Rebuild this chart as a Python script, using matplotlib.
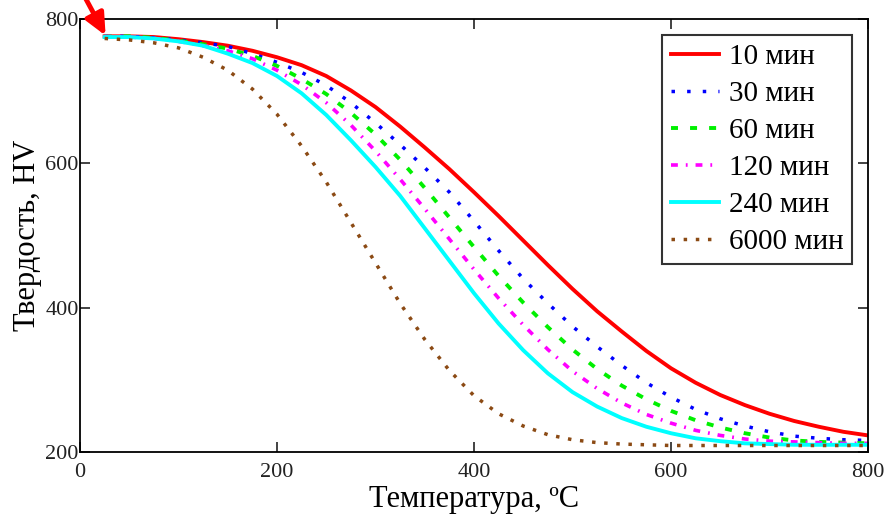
import matplotlib
matplotlib.use("Agg")
import matplotlib.pyplot as plt

plt.rcParams['font.family'] = ['Liberation Serif', 'DejaVu Serif']

# temperature grid, deg C
temp = [25, 50, 75, 100, 125, 150, 175, 200, 225, 250, 275, 300, 325, 350, 375, 400,
        425, 450, 475, 500, 525, 550, 575, 600, 625, 650, 675, 700, 725, 750, 775, 800]

# hardness HV
hv_10 = [776, 776, 775, 772, 768, 763, 756, 747, 736, 721, 701, 678, 651, 622, 592, 560,
         527, 493, 459, 426, 395, 367, 340, 316, 296, 279, 265, 253, 243, 235, 228, 223]
hv_30 = [776, 776, 774, 771, 767, 762, 752, 740, 726, 708, 684, 656, 626, 594, 560, 520,
         479, 440, 406, 374, 346, 320, 296, 276, 259, 246, 236, 228, 222, 219, 217, 216]
hv_60 = [776, 776, 774, 770, 765, 759, 749, 735, 717, 696, 670, 640, 605, 566, 525, 484,
         444, 407, 373, 342, 315, 292, 273, 257, 244, 234, 226, 220, 216, 214, 213, 212]
hv_120 = [776, 775, 773, 769, 763, 756, 745, 729, 709, 684, 653, 617, 578, 537, 495, 453,
          413, 376, 342, 312, 288, 268, 252, 240, 230, 223, 218, 215, 214, 213, 212, 212]
hv_240 = [775, 775, 773, 769, 763, 752, 739, 721, 697, 667, 632, 595, 555, 510, 465, 420,
          378, 341, 309, 283, 263, 247, 235, 226, 219, 215, 212, 211, 210, 210, 210, 210]
hv_6000 = [773, 771, 767, 760, 747, 729, 703, 668, 624, 574, 518, 462, 406, 356, 313, 278,
           253, 236, 224, 217, 213, 211, 210, 209, 209, 209, 209, 209, 209, 209, 209, 209]

labels = ['10 мин', '30 мин', '60 мин', '120 мин', '240 мин', '6000 мин']
series = [hv_10, hv_30, hv_60, hv_120, hv_240, hv_6000]
colors = ['#ff0000', '#0000ff', '#00f000', '#ff00ff', '#00ffff', '#8b4a14']
styles = ['-', (0, (1, 3.5)), (0, (1.8, 3.1)), (0, (1.9, 2.2, 0.5, 2.2)), '-', (0, (1, 2.5))]
widths = [2.8, 2.5, 2.8, 2.6, 2.8, 2.5]

fig = plt.figure(figsize=(8.85, 5.2), dpi=100)
ax = fig.add_axes([80 / 885, 1 - 452 / 520, 788 / 885, 433 / 520])

for y, lab, c, ls, lw in zip(series, labels, colors, styles, widths):
    ax.plot(temp, y, color=c, linestyle=ls, linewidth=lw, label=lab)

ax.set_xlim(0, 800)
ax.set_ylim(200, 800)
ax.set_xticks([0, 200, 400, 600, 800])
ax.set_yticks([200, 400, 600, 800])
ax.tick_params(direction='in', length=7, width=1.2, top=True, right=True,
               labelsize=16, colors='#222222')
ax.tick_params(axis='y', pad=1)
ax.tick_params(axis='x', pad=8)
for s in ax.spines.values():
    s.set_linewidth(1.3)

ax.set_xlabel('Температура, ºC', fontsize=22, labelpad=2)
ax.set_ylabel('Твердость, HV', fontsize=22, labelpad=2)

leg = ax.legend(loc='upper right', bbox_to_anchor=(0.98, 0.963), borderaxespad=0,
                fontsize=21, frameon=True, fancybox=False, handlelength=1.65,
                handletextpad=0.35, labelspacing=0.36, borderpad=0.3)
leg.get_frame().set_edgecolor('black')
leg.get_frame().set_linewidth(1.5)

# red arrow pointing at the start of the curves
ax.annotate('', xy=(26, 777), xytext=(80, 532), textcoords='figure pixels',
            annotation_clip=False,
            arrowprops=dict(arrowstyle='-|>,head_length=1.3,head_width=0.6',
                            color='#ff0000', lw=3.5, shrinkA=0, shrinkB=0))

fig.savefig('out.png', dpi=100)
